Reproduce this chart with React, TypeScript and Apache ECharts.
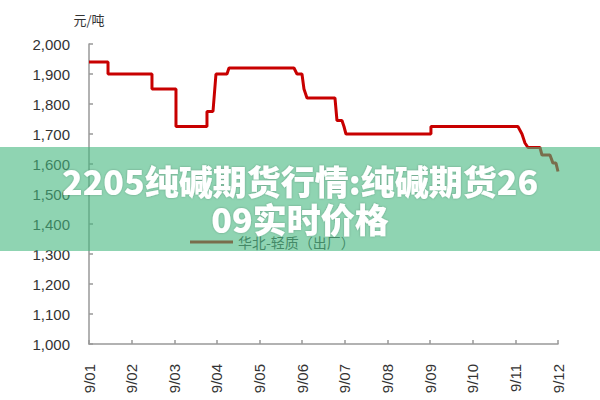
import React, { useEffect, useRef } from "react";
import * as echarts from "echarts";

const xLabels = ["9/01", "9/02", "9/03", "9/04", "9/05", "9/06", "9/07", "9/08", "9/09", "9/10", "9/11", "9/12"];
const yTicks = [1000, 1100, 1200, 1300, 1400, 1500, 1600, 1700, 1800, 1900, 2000];
const priceX = [
  0, 0.446, 0.446, 1.477, 1.477, 2.04, 2.04, 2.767, 2.767, 2.908, 2.978, 3.236, 3.283, 4.808, 4.878, 4.995,
  5.042, 5.113, 5.769, 5.816, 5.933, 5.98, 6.027, 8.02, 8.02, 10.06, 10.155, 10.225, 10.295, 10.577, 10.624,
  10.811, 10.882, 10.952, 11,
];
const priceValues = [
  1940, 1940, 1900, 1900, 1850, 1850, 1725, 1725, 1775, 1775, 1900, 1900, 1920, 1920, 1900, 1900, 1850, 1820,
  1820, 1745, 1745, 1725, 1700, 1700, 1725, 1725, 1700, 1670, 1655, 1655, 1630, 1630, 1603, 1603, 1575,
];
const seriesName = "华北-轻质（出厂）";
const unitLabel = "元/吨";
const overlayTitle = "2205纯碱期货行情:纯碱期货26\n09实时价格";

export default function App() {
  const ref = useRef<HTMLDivElement>(null);
  useEffect(() => {
    document.body.style.margin = "0";
    const chart = echarts.init(ref.current!, null, { renderer: "svg" });
    const data = priceX.map((x, i) => [x, priceValues[i]]);
    chart.setOption({
      animation: false,
      backgroundColor: "#ffffff",
      grid: { left: 89, right: 42, top: 44, bottom: 56 },
      legend: {
        data: [{ name: seriesName, icon: "rect" }],
        left: 185,
        top: 230,
        itemWidth: 43,
        itemHeight: 3,
        itemGap: 10,
        textStyle: { fontSize: 14, color: "#444", fontFamily: "Noto Sans CJK SC" },
      },
      xAxis: {
        type: "value",
        min: 0,
        max: 11,
        interval: 1,
        splitLine: { show: false },
        axisLine: { lineStyle: { color: "#999", width: 1.5 } },
        axisTick: { inside: true, length: 4, lineStyle: { color: "#999", width: 1.5 } },
        axisLabel: {
          rotate: 90,
          margin: 20,
          fontSize: 15,
          color: "#333",
          fontFamily: "Liberation Sans",
          formatter: (v: number) => (Number.isInteger(v) ? xLabels[v] ?? "" : ""),
        },
      },
      yAxis: {
        type: "value",
        min: yTicks[0],
        max: yTicks[yTicks.length - 1],
        interval: 100,
        name: unitLabel,
        nameLocation: "end",
        nameGap: 18,
        nameTextStyle: { fontSize: 13, color: "#333", fontFamily: "Noto Sans CJK SC", align: "center" },
        splitLine: { show: false },
        axisLine: { show: true, lineStyle: { color: "#999", width: 1.5 } },
        axisTick: { show: true, inside: true, length: 4, lineStyle: { color: "#999", width: 1.5 } },
        axisLabel: {
          margin: 19,
          fontSize: 15,
          color: "#333",
          fontFamily: "Liberation Sans",
          formatter: (v: number) => v.toLocaleString("en-US"),
        },
      },
      series: [
        {
          name: seriesName,
          type: "line",
          data,
          symbol: "none",
          lineStyle: { color: "#c80000", width: 3 },
          itemStyle: { color: "#c80000" },
        },
      ],
      graphic: [
        {
          type: "rect",
          z: 100,
          shape: { x: 0, y: 147, width: 600, height: 104 },
          style: { fill: "rgba(68,183,127,0.6)" },
        },
        {
          type: "text",
          z: 101,
          x: 300,
          y: 199,
          style: {
            text: overlayTitle,
            align: "center",
            verticalAlign: "middle",
            fill: "#ffffff",
            fontSize: 34,
            fontWeight: 900,
            fontFamily: "Noto Sans CJK SC",
            lineHeight: 38,
            textShadowColor: "rgba(0,0,0,0.25)",
            textShadowBlur: 2,
          },
        },
      ],
    });
    return () => chart.dispose();
  }, []);
  return <div ref={ref} style={{ width: 600, height: 400 }} />;
}
